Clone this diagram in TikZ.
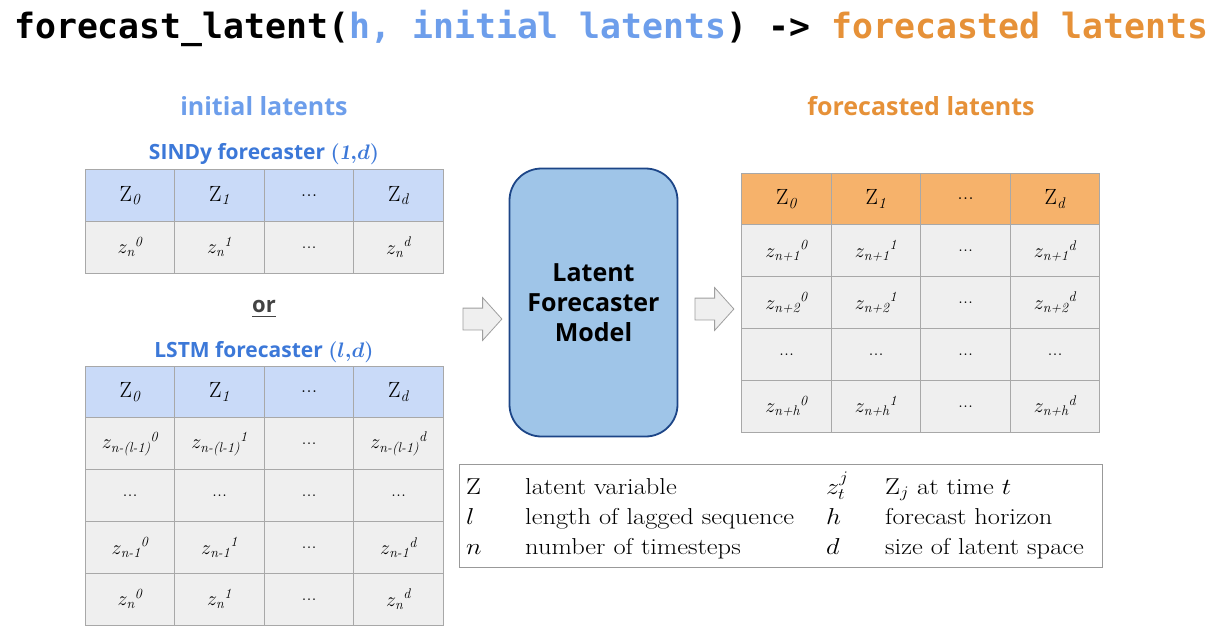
\RequirePackage{fix-cm}
\documentclass[tikz,border=0pt]{standalone}
\usepackage{amsmath}
\usepackage{graphicx}
\usepackage{fontspec}
\newfontfamily\titlefont{DejaVu Sans Mono}
\newfontfamily\labelfont{Open Sans}
\usetikzlibrary{shapes.arrows,positioning}

\definecolor{headblue}{HTML}{C9DAF8}
\definecolor{headorange}{HTML}{F6B26B}
\definecolor{cellgray}{HTML}{EFEFEF}
\definecolor{tablegray}{HTML}{A8A8A8}
\definecolor{boxblue}{HTML}{9FC5E8}
\definecolor{boxborder}{HTML}{1C4587}
\definecolor{titleblue}{HTML}{6D9EEB}
\definecolor{titleorange}{HTML}{E69138}
\definecolor{labelblue}{HTML}{3C78D8}
\definecolor{orgray}{HTML}{434343}

\newcommand\Zh[1]{$\mathrm{Z}_{\mathit{#1}}$}
\newcommand\zz[2]{$z_{\textit{#1}}{}^{\textit{#2}}$}
\newcommand\tdots{...}
\newcommand\wide[1]{\scalebox{1.15}[1]{#1}}

\begin{document}
\begin{tikzpicture}[
        x=1pt, y=-1pt,
        cell/.style={rectangle, draw=tablegray, line width=1pt, fill=cellgray, minimum width=89.5pt, minimum height=51.8pt, inner sep=0pt, font=\fontsize{20}{24}\selectfont},
        head/.style={cell, fill=headblue, font=\fontsize{22}{26}\selectfont},
        headout/.style={head, fill=headorange},
        caption/.style={font=\labelfont\bfseries\boldmath\fontsize{21}{24}\selectfont, text=labelblue, inner sep=0pt},
        blockarrow/.style={single arrow, draw=gray!75, fill=cellgray, line width=0.8pt, inner xsep=0pt, inner ysep=10.5pt, minimum height=39pt, single arrow head extend=10.5pt, single arrow tip angle=96},
        legend/.style={anchor=base west, inner sep=0pt, font=\fontsize{23}{28}\selectfont}
    ]
    \useasboundingbox (0,0) rectangle (1218,643);

    \node[anchor=base west, inner sep=0pt, font=\titlefont\bfseries\fontsize{34.8}{40}\selectfont] (title) at (14,38)
        {forecast\_latent(\textcolor{titleblue}{h, initial latents}) -> \textcolor{titleorange}{forecasted latents}};

    \node[font=\labelfont\bfseries\fontsize{25}{28}\selectfont, text=titleblue] (init) at (264,106) {initial latents};
    \node[font=\labelfont\bfseries\fontsize{25}{28}\selectfont, text=titleorange] (fore) at (921,106) {forecasted latents};

    % SINDy table
    \node[caption] (sindy) at (264,154) {SINDy forecaster \textnormal{$(\mathit{1}{,}d)$}};
    \foreach \t [count=\i from 0] in {\Zh{0},\Zh{1},\tdots,\Zh{d}}
        \node[head] (s-0-\i) at (130+89.5*\i,195.4) {\t};
    \foreach \t [count=\i from 0] in {\zz{n}{0},\zz{n}{1},\tdots,\zz{n}{d}}
        \node[cell] (s-1-\i) at (130+89.5*\i,247.2) {\t};

    \node[font=\labelfont\bfseries\fontsize{22}{26}\selectfont, text=orgray] (or) at (264,309) {\underline{or}};

    % LSTM table
    \node[caption] (lstm) at (264,352) {LSTM forecaster \textnormal{$(l{,}d)$}};
    \foreach \t [count=\i from 0] in {\Zh{0},\Zh{1},\tdots,\Zh{d}}
        \node[head] (l-0-\i) at (130+89.5*\i,392) {\t};
    \foreach \r/\s in {1/{n-(l-1)},3/{n-1},4/n}{
        \foreach \k/\c in {0/0,1/1,d/3}
            \node[cell] (l-\r-\c) at (130+89.5*\c,392+51.8*\r) {\zz{\s}{\k}};
        \node[cell] (l-\r-2) at (130+89.5*2,392+51.8*\r) {\tdots};
    }
    \foreach \c in {0,...,3}
        \node[cell] (l-2-\c) at (130+89.5*\c,495.6) {\tdots};

    % model
    \node[blockarrow] (in) at (477.5,319) {};
    \node[rectangle, rounded corners=32pt, draw=boxborder, line width=1.8pt, fill=boxblue,
          minimum width=168pt, minimum height=268pt, align=center,
          font=\labelfont\bfseries\fontsize{25}{30}\selectfont] (model) at (593.5,302.5)
          {Latent\\Forecaster\\Model};
    \node[blockarrow] (out) at (709.5,309) {};

    % forecasted table
    \foreach \t [count=\i from 0] in {\Zh{0},\Zh{1},\tdots,\Zh{d}}
        \node[headout] (f-0-\i) at (786.5+89.5*\i,199) {\t};
    \foreach \r/\s in {1/n+1,2/n+2,4/n+h}{
        \foreach \k/\c in {0/0,1/1,d/3}
            \node[cell] (f-\r-\c) at (786.5+89.5*\c,199+51.8*\r) {\zz{\s}{\k}};
        \node[cell] (f-\r-2) at (786.5+89.5*2,199+51.8*\r) {\tdots};
    }
    \foreach \c in {0,...,3}
        \node[cell] (f-3-\c) at (786.5+89.5*\c,354.4) {\tdots};

    % legend
    \node[rectangle, draw=gray!80, line width=1pt, minimum width=643pt, minimum height=103pt, inner sep=0pt] (key) at (780.5,515.5) {};
    \node[legend] (k1a) at (466,494) {\wide{Z}};
    \node[legend] (k1b) at (525,494) {\wide{latent variable}};
    \node[legend] (k1c) at (826,494) {\wide{$z_t^j$}};
    \node[legend] (k1d) at (885,494) {\wide{Z$_j$ at time $t$}};
    \node[legend] (k2a) at (466,524) {\wide{$l$}};
    \node[legend] (k2b) at (525,524) {\wide{length of lagged sequence}};
    \node[legend] (k2c) at (826,524) {\wide{$h$}};
    \node[legend] (k2d) at (885,524) {\wide{forecast horizon}};
    \node[legend] (k3a) at (466,554) {\wide{$n$}};
    \node[legend] (k3b) at (525,554) {\wide{number of timesteps}};
    \node[legend] (k3c) at (826,554) {\wide{$d$}};
    \node[legend] (k3d) at (885,554) {\wide{size of latent space}};
\end{tikzpicture}
\end{document}
